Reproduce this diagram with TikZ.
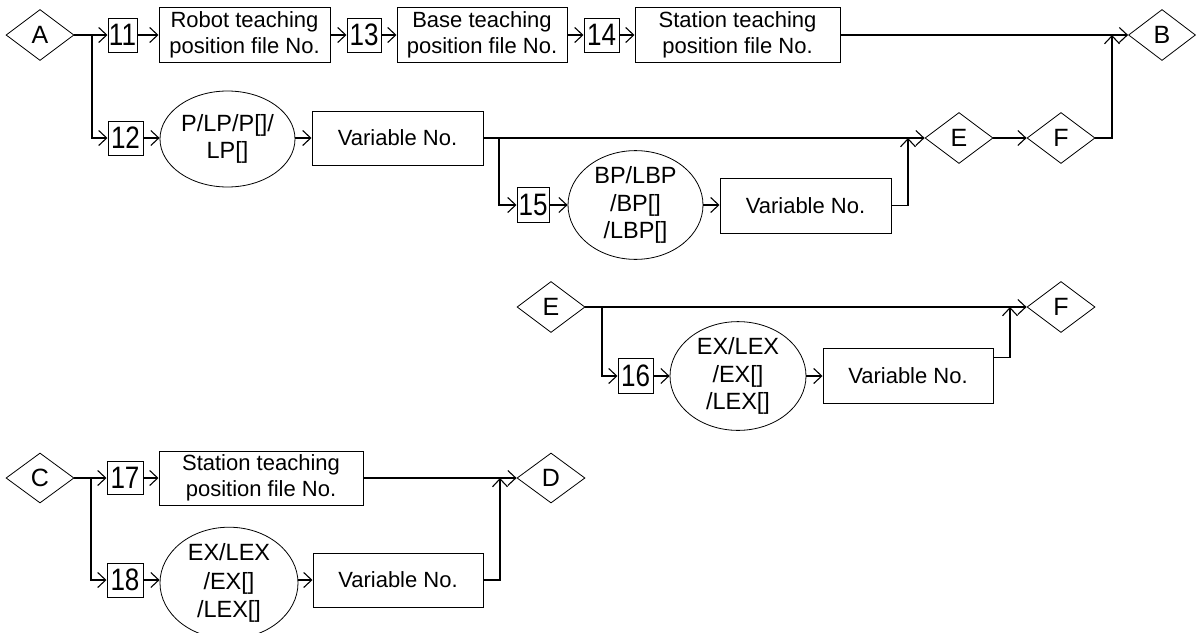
\documentclass[tikz,border=0pt]{standalone}
\usepackage{fontspec}
\setmainfont{Liberation Sans}
\usetikzlibrary{shapes.geometric,arrows.meta}
\tikzset{
 conn/.style={line width=1.6pt,-{Straight Barb[length=8pt,width=15pt,line width=1.1pt]}},
 plain/.style={line width=1.6pt},
 dia/.style={diamond,draw,line width=0.8pt,inner sep=0pt,minimum width=68pt,minimum height=51pt,font=\fontsize{25}{28}\selectfont},
 numbox/.style={rectangle,draw,line width=1pt,inner sep=0pt,minimum height=34pt,font=\fontsize{31}{31}\selectfont},
 txtbox/.style={rectangle,draw,line width=1pt,inner sep=0pt,minimum height=55pt,align=center,font=\fontsize{22}{25.5}\selectfont},
 oval/.style={ellipse,draw,line width=0.8pt,inner sep=0pt,align=center,font=\fontsize{23.5}{27.5}\selectfont}
}
\newcommand\nm[1]{\scalebox{0.84}[1]{#1}}
\begin{document}
\begin{tikzpicture}[x=1pt,y=-1pt]
\useasboundingbox (0,0) rectangle (1196,632);
% row 1
\node[dia] (A) at (40,35) {A};
\coordinate (jA) at (92,35);
\node[numbox,minimum width=29pt] (b11) at (122.5,35) {\nm{11}};
\node[txtbox,minimum width=171pt] (rob) at (244.5,35) {Robot teaching\\position file No.};
\node[numbox,minimum width=34pt] (b13) at (364,35) {\nm{13}};
\node[txtbox,minimum width=170pt] (base) at (482,35) {Base teaching\\position file No.};
\node[numbox,minimum width=35pt] (b14) at (601.5,35) {\nm{14}};
\node[txtbox,minimum width=205pt] (st1) at (737.5,35) {Station teaching\\position file No.};
\node[dia,minimum width=67pt] (B) at (1162,35) {B};
\coordinate (jB) at (1112,35);
% row 2
\node[numbox,minimum width=35pt] (b12) at (125.5,138) {\nm{12}};
\node[oval,minimum width=135pt,minimum height=96pt] (el12) at (227.5,139) {P/LP/P[]/\\LP[]};
\node[txtbox,minimum width=171pt,minimum height=54pt] (v12) at (397.5,138) {Variable No.};
\node[dia] (E1) at (959,138) {E};
\node[dia] (F1) at (1061,138) {F};
\coordinate (j15) at (499,138);
\coordinate (jE1) at (908,138);
\node[numbox,minimum width=32pt,minimum height=35pt] (b15) at (533,205) {\nm{15}};
\node[oval,minimum width=135pt,minimum height=103pt] (el15) at (635.5,205) {BP/LBP\\/BP[]\\/LBP[]};
\node[txtbox,minimum width=171pt] (v15) at (805.5,205.5) {Variable No.};
% row 3
\node[dia] (E2) at (551,307) {E};
\coordinate (j16) at (602,307);
\node[numbox,minimum width=35pt,minimum height=35pt] (b16) at (635.5,376) {\nm{16}};
\node[oval,minimum width=136pt,minimum height=103pt] (el16) at (738,376) {EX/LEX\\/EX[]\\/LEX[]};
\node[txtbox,minimum width=170pt] (v16) at (908,375.5) {Variable No.};
\coordinate (jF2) at (1010,307);
\node[dia] (F2) at (1061,307) {F};
% row 4
\node[dia,minimum height=50pt] (C) at (40,478) {C};
\coordinate (jC) at (91,478);
\node[numbox,minimum width=36pt,minimum height=33pt] (b17) at (125,478) {\nm{17}};
\node[txtbox,minimum width=204pt,minimum height=54pt] (st2) at (261,478) {Station teaching\\position file No.};
\node[dia,minimum height=50pt] (D) at (551,478) {D};
\coordinate (jD) at (500,478);
\node[numbox,minimum width=36pt] (b18) at (125,580) {\nm{18}};
\node[oval,minimum width=138pt,minimum height=93pt,font=\fontsize{23.5}{28.5}\selectfont] (el18) at (229,583) {EX/LEX\\/EX[]\\/LEX[]};
\node[txtbox,minimum width=170pt,minimum height=54pt] (v18) at (398,580) {Variable No.};
% connectors row 1
\draw[plain] (A.east) -- (jA);
\draw[conn] (jA) -- (b11.west);
\draw[conn] (b11.east) -- (rob.west);
\draw[conn] (rob.east) -- (b13.west);
\draw[conn] (b13.east) -- (base.west);
\draw[conn] (base.east) -- (b14.west);
\draw[conn] (b14.east) -- (st1.west);
\draw[conn] (st1.east) -- (B.west);
% row 2
\draw[conn] (jA) |- (b12.west);
\draw[conn] (b12.east) -- (el12.west |- b12.east);
\draw[conn] (el12.east |- b12.east) -- (v12.west);
\draw[conn] (v12.east) -- (E1.west);
\draw[conn] (j15) |- (b15.west);
\draw[conn] (b15.east) -- (el15.west);
\draw[conn] (el15.east) -- (v15.west |- el15.east);
\draw[conn] (v15.east) -| (jE1);
\draw[conn] (E1.east) -- (F1.west);
\draw[conn] (F1.east) -| (jB);
% row 3
\draw[conn] (E2.east) -- (F2.west);
\draw[conn] (j16) |- (b16.west);
\draw[conn] (b16.east) -- (el16.west);
\draw[conn] (el16.east) -- (v16.west |- el16.east);
\draw[conn] ([yshift=18pt]v16.east) -| (jF2);
% row 4
\draw[plain] (C.east) -- (jC);
\draw[conn] (jC) -- (b17.west);
\draw[conn] (b17.east) -- (st2.west);
\draw[conn] (st2.east) -- (D.west);
\draw[conn] (jC) |- (b18.west);
\draw[conn] (b18.east) -- (el18.west |- b18.east);
\draw[conn] (el18.east |- b18.east) -- (v18.west);
\draw[conn] (v18.east) -| (jD);
\end{tikzpicture}
\end{document}
